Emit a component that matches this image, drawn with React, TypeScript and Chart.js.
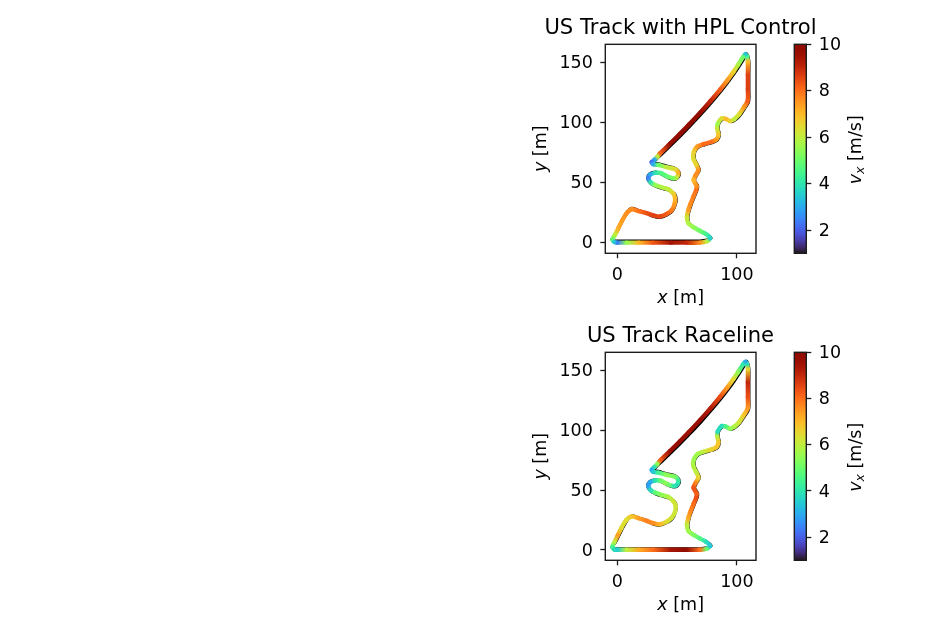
import React, { useEffect, useRef } from "react";
import { Chart, registerables } from "chart.js";

Chart.register(...registerables);

const FONT = "'DejaVu Sans'";
const INK = "#1c1c1c";
const xTicks = [0, 100];
const yTicks = [0, 50, 100, 150];
const cbTicks = [2, 4, 6, 8, 10];

const hplX = [0,8,18,30,45,58,69,75,77.6,74,69.3,64,59.5,58.2,59.5,61,63.6,66,66.4,63.8,65.5,67.8,66,63.6,64,67,72,79,83,84.6,83.5,84,87.4,91,94.4,98,102,106,109,109.2,109.2,109.2,108.5,107,105,101,97.2,92,86,78,69.3,60,52.5,44,35.8,33.5,31,28.8,30,34.4,41,48.3,51.1,49.5,46.9,43,40,36,31.6,27.5,26,28,31.6,37,42.8,47,48.3,47.8,45.5,41,35.7,30,24.6,18,12,7.9,4,0.8,-2,-3.9,-2.5,0];
const hplY = [-0.3,-0.3,-0.3,-0.3,-0.3,-0.3,-0.3,0.8,3.5,7,9.5,12.5,15.8,21,27,31.5,38,44,47,52,56,60.4,65,70,75.5,80,82,84,86,90,95,99,103.5,103,101.3,103,107,113,118,128,140,151,155.5,157,154.5,148.2,142.5,135.3,127.6,118,108.2,98.3,90.6,82.2,74.3,71.5,68.8,67,65.3,64.6,62.8,61,57.6,54,53.4,54.5,56,58,58,56.5,53.4,50,47.9,46,44.3,40.5,36.7,31.5,26.9,23.5,21.5,22.5,24.3,26,27.6,24.3,18,11.6,6,2.5,0.2,-0.3];
const hplV = [2.4,5.5,7,8.3,9.4,9,7.6,6,3.6,4.4,5,5.4,5.8,6.2,7.4,7.6,7.8,8,7.6,7,7.6,7.6,6.6,6.4,6.6,7.4,8,8,7.4,6.8,6.2,5.6,6.4,7,6.6,6,6.4,7.4,8.2,8.6,8.6,7,4.5,3.4,5,5.8,6.6,7.4,8.2,9,9.7,9.9,9.8,9.7,8.2,6,3,2.2,3,5,6,6.4,7.2,6,5.2,5,4.8,4.6,4,3,2.4,4,5.4,5.8,6,6.6,7,7.4,7.8,8.2,8.5,8.6,8.4,8,7.6,7.6,7.4,7.2,6,5,3.5,2.4];

const lineX = [0,8,18,30,45,58,69,75,77.6,74,69.3,64,59.5,58.2,59.5,61,63.6,66,66.4,63.8,65.5,67.8,66,63.6,64,67,72,79,83,84.6,83.5,84,87.4,91,94.4,98,102,106,109,109.2,109.2,109.2,108.5,107,105,100.9,97.1,91.9,85.9,77.9,69.2,59.9,52.4,43.9,35.7,33.4,30.8,28.8,30,34.4,41,48.3,51.1,49.5,46.9,43,40,36,31.6,27.5,26,28,31.6,37,42.8,47,48.8,48.2,45.5,41,35.7,30,24.6,18,12,7.5,3.5,0.3,-2.4,-4,-2.5,0];
const lineY = [0.2,0.2,0.2,0.2,0.2,0.2,0.2,1,3.5,7,9.5,12.5,15.8,21,27,31.5,38,44,47,52,56,60.4,65,70,75.5,80,82,84,86,90,95,99,103.5,103,101.3,103,107,113,118,128,140,151,155.5,157,154.7,148.4,142.7,135.5,127.8,118.2,108.4,98.5,90.8,82.4,74.5,71.7,69,67,65.3,64.6,62.8,61,57.6,54,53.4,54.5,56,58,58,56.5,53.4,50,47.9,46,44.3,40.5,36.7,31.5,26.9,23.5,21.5,22.5,24.3,26.5,28,25,18.5,12,6.5,2.5,0.4,0.2];
const lineV = [3.6,6,7.2,8,9.4,9.8,8,5,3.4,3.8,4.6,5.2,5.6,6,7.2,7.6,8,8.4,8.2,8.4,7.8,6.6,6,5.8,5.6,5.6,6,6.6,6.8,6.8,6,3.8,3.8,4.6,5.4,5.8,6.2,6.8,7.4,8.4,9,6.6,4,3,4,5.4,6.4,7.4,8.4,9.2,9.7,9.5,9.7,9.6,8.2,5.5,4,3,3.4,4.4,5.4,5.2,4.2,3.8,4,5,5.4,5,4,3,2.8,3.8,4.8,5.4,5.8,6.2,6.2,6.2,6.2,6.4,7,7.6,7.8,7.4,6.8,6.4,6.4,7.4,6,4.5,3.8,3.6];

const refX = [0,8,18,30,45,58,69,75,78.4,75,70,65,60.3,59,60.3,61.8,64.4,66.8,67.2,64.6,66.3,68.6,66.8,64.4,64.8,67.8,72.8,79.8,83.8,85.4,84.3,84.8,88,91.6,95,98.8,102.8,106.8,109.8,110,110,110,109,107.6,105.9,101.9,98.1,92.9,86.9,78.9,70.2,60.9,53.4,44.9,36.7,34,31.5,29,30.4,34.4,41,48.3,51.9,50,46.9,43,40,36,31.6,27,25.4,27.8,31.6,37,42.8,47.8,49.2,48.6,46,41.3,35.7,30,24.6,18,12,8.3,4.5,1.3,-1.5,-4.4,-2.5,0];
const refY = [1,1,1,1,1,1,1,1.8,3.5,6.5,9,12,15.4,21,27,31.5,38,44,47,52,56,60.4,65,70,75.5,79.5,81.4,83.4,85.4,90,95,99,103,102.6,100.7,102.4,106.4,112.4,117.4,128,140,151,156,157.6,153.5,147.2,141.5,134.3,126.6,117,107.2,97.3,89.6,81.2,73.3,71,68.4,67,66,65.6,63.6,61.8,57.6,53.4,52.6,53.8,55.4,57.4,58.6,57,53.4,49.4,47.2,45.2,43.6,40.5,36.7,31.5,26.2,22.8,20.8,21.8,24.4,26.6,28.4,25,18.5,12,6.5,2.5,1,1];

function turbo(t: number) {
  const c = (v: number) => Math.max(0, Math.min(255, Math.round(v)));
  const r = 34.61 + t * (1172.33 - t * (10793.56 - t * (33300.12 - t * (38394.49 - t * 14825.05))));
  const g = 23.31 + t * (557.33 + t * (1225.33 - t * (3574.96 - t * (1073.77 + t * 707.56))));
  const b = 27.2 + t * (3211.1 - t * (15327.97 - t * (27814 - t * (22569.18 - t * 6838.66))));
  return `rgb(${c(r)},${c(g)},${c(b)})`;
}
const speedColor = (v: number) => turbo((v - 1) / 9);

function mixedText(ctx: CanvasRenderingContext2D, cx: number, cy: number, rot: number, parts: [string, string, number][]) {
  ctx.save();
  ctx.translate(cx, cy);
  ctx.rotate(rot);
  ctx.fillStyle = "#000";
  ctx.textBaseline = "alphabetic";
  ctx.textAlign = "left";
  let w = 0;
  for (const [t, f] of parts) { ctx.font = f; w += ctx.measureText(t).width; }
  let x = -w / 2;
  for (const [t, f, dy] of parts) {
    ctx.font = f;
    ctx.fillText(t, x, 6 + dy);
    x += ctx.measureText(t).width;
  }
  ctx.restore();
}
const IT = `italic 17.5px ${FONT}`;
const RM = `17.5px ${FONT}`;
const SUB = `italic 12.5px ${FONT}`;

const framePlugin = {
  id: "frame",
  beforeDraw(chart: any) {
    // Tick digits sit about a pixel lower on their ticks than the canvas "middle" baseline puts them.
    const s = chart.scales.y;
    if (s && !s.$nudged) {
      s.getLabelItems().forEach((item: any) => { item.options.translation[1] += 1.2; });
      s.$nudged = true;
    }
  },
  afterDraw(chart: Chart) {
    const a = chart.chartArea;
    const c = chart.ctx;
    c.save();
    c.strokeStyle = INK;
    c.lineWidth = 1.4;
    c.strokeRect(a.left, a.top, a.right - a.left, a.bottom - a.top);
    c.restore();
  },
};

const trackLabels = {
  id: "trackLabels",
  afterDraw(chart: Chart) {
    const a = chart.chartArea;
    const c = chart.ctx;
    mixedText(c, (a.left + a.right) / 2, a.bottom + 43.5, 0, [["x", IT, 0], [" [m]", RM, 0]]);
    mixedText(c, a.left - 65, (a.top + a.bottom) / 2, -Math.PI / 2, [["y", IT, 0], [" [m]", RM, 0]]);
  },
};
const cbLabel = {
  id: "cbLabel",
  afterDraw(chart: Chart) {
    const a = chart.chartArea;
    mixedText(chart.ctx, a.right + 49, (a.top + a.bottom) / 2 + 1, -Math.PI / 2, [["v", IT, 0], ["x", SUB, 3], [" [m/s]", RM, 0]]);
  },
};

function makeSegment(vals: number[]) {
  return {
    borderColor(ctx: any) {
      const { p0, p1, p0DataIndex: i, p1DataIndex: j } = ctx;
      if (![p0.x, p0.y, p1.x, p1.y].every(Number.isFinite)) return speedColor(vals[i]);
      const g: any = (ctx.chart.ctx as CanvasRenderingContext2D).createLinearGradient(p0.x, p0.y, p1.x, p1.y);
      g.addColorStop(0, speedColor(vals[i]));
      g.addColorStop(1, speedColor(vals[j]));
      g.toJSON = () => `seg${i}`;
      return g;
    },
  };
}

type PanelProps = { top: number; title: string; xs: number[]; ys: number[]; vs: number[]; yMin: number; yMax: number; plotH: number };

function Track({ top, title, xs, ys, vs, yMin, yMax, plotH }: PanelProps) {
  const ref = useRef<HTMLCanvasElement>(null);
  useEffect(() => {
    const chart = new Chart(ref.current!, {
      type: "scatter",
      data: {
        datasets: [
          {
            data: xs.map((x, i) => ({ x, y: ys[i] })),
            showLine: true, pointRadius: 0, borderWidth: 4.4, tension: 0.3,
            borderCapStyle: "round", borderJoinStyle: "round",
            borderColor: "#888",
            segment: makeSegment(vs),
            order: 1,
            xAxisID: "x", yAxisID: "y",
          } as any,
          {
            data: refX.map((x, i) => ({ x, y: refY[i] })),
            showLine: true, pointRadius: 0, borderWidth: 3.2, tension: 0.3,
            borderColor: "#000",
            order: 2,
            xAxisID: "x", yAxisID: "y",
          } as any,
        ],
      },
      options: {
        animation: false, responsive: false,
        layout: { padding: 0 },
        plugins: {
          legend: { display: false }, tooltip: { enabled: false },
          title: { display: true, text: title, color: "#000", font: { family: FONT, size: 21.1, weight: "normal", lineHeight: 1.2 }, padding: { top: 6.2, bottom: 2.8 } },
        },
        scales: {
          x: {
            type: "linear", min: -10, max: 116,
            afterBuildTicks: (s: any) => { s.ticks = xTicks.map((value) => ({ value })); },
            afterFit: (s: any) => { s.height = 300 - 34.3 - plotH; },
            grid: { drawOnChartArea: false, drawTicks: true, tickLength: 5, tickColor: INK, tickWidth: 1.3 },
            border: { display: false },
            ticks: { color: "#000", font: { family: FONT, size: 17.5 }, padding: 7, maxRotation: 0, autoSkip: false },
          },
          y: {
            type: "linear", min: yMin, max: yMax,
            afterBuildTicks: (s: any) => { s.ticks = yTicks.map((value) => ({ value })); },
            afterFit: (s: any) => { s.width = 75.3; },
            grid: { drawOnChartArea: false, drawTicks: true, tickLength: 5, tickColor: INK, tickWidth: 1.3 },
            border: { display: false },
            ticks: { color: "#000", font: { family: FONT, size: 17.5 }, padding: 7.5, autoSkip: false },
          },
          spacer: {
            type: "linear", position: "right", display: true,
            grid: { display: false }, border: { display: false }, ticks: { display: false },
            afterFit: (s: any) => { s.width = 75; },
          },
        },
      } as any,
      plugins: [framePlugin, trackLabels],
    });
    return () => chart.destroy();
  }, []);
  return <canvas ref={ref} width={301} height={300} style={{ position: "absolute", left: 530, top, width: 301, height: 300 }} />;
}

function ColorBar({ top, plotH }: { top: number; plotH: number }) {
  const ref = useRef<HTMLCanvasElement>(null);
  useEffect(() => {
    const chart = new Chart(ref.current!, {
      type: "bar",
      data: {
        labels: ["vx"],
        datasets: [{
          data: [[1, 10]],
          barPercentage: 1, categoryPercentage: 1, borderWidth: 0,
          backgroundColor(ctx: any) {
            const a = ctx.chart.chartArea;
            if (!a) return "#888";
            const g = ctx.chart.ctx.createLinearGradient(0, a.bottom, 0, a.top);
            for (let i = 0; i <= 32; i++) g.addColorStop(i / 32, turbo(i / 32));
            return g;
          },
        }],
      },
      options: {
        animation: false, responsive: false,
        layout: { padding: { left: 4.3, right: 0, top: 34.3, bottom: 300 - 34.3 - plotH } },
        plugins: { legend: { display: false }, tooltip: { enabled: false } },
        scales: {
          x: { display: false },
          y: {
            position: "right", min: 1, max: 10,
            afterBuildTicks: (s: any) => { s.ticks = cbTicks.map((value) => ({ value })); },
            afterFit: (s: any) => { s.width = 93.7; },
            grid: { drawOnChartArea: false, drawTicks: true, tickLength: 5, tickColor: INK, tickWidth: 1.3 },
            border: { display: false },
            ticks: { color: "#000", font: { family: FONT, size: 17.5 }, padding: 7.5, autoSkip: false },
          },
        },
      } as any,
      plugins: [framePlugin, cbLabel],
    });
    return () => chart.destroy();
  }, []);
  return <canvas ref={ref} width={110} height={300} style={{ position: "absolute", left: 790, top, width: 110, height: 300 }} />;
}

export default function App() {
  return (
    <div style={{ position: "absolute", left: 0, top: 0, width: 951, height: 634, overflow: "hidden", background: "#fff", filter: "blur(0.45px)" }}>
      <Track top={10} title="US Track with HPL Control" xs={hplX} ys={hplY} vs={hplV} yMin={-9.2} yMax={165.4} plotH={209} />
      <ColorBar top={10} plotH={209} />
      <Track top={318} title="US Track Raceline" xs={lineX} ys={lineY} vs={lineV} yMin={-8.6} yMax={165} plotH={208} />
      <ColorBar top={318} plotH={208} />
    </div>
  );
}
